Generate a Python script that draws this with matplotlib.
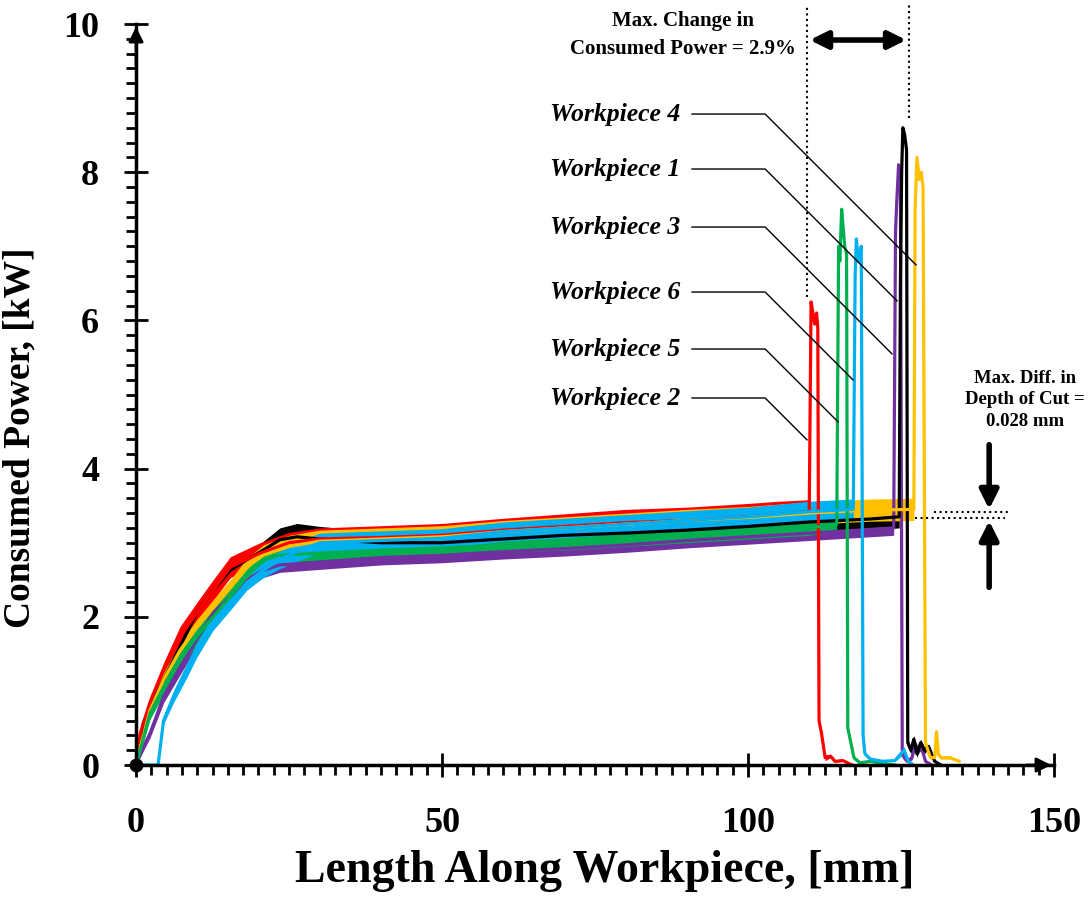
import matplotlib
matplotlib.use("Agg")
import matplotlib.pyplot as plt
import numpy as np
from matplotlib.ticker import MultipleLocator

plt.rcParams['font.family'] = ['Liberation Serif', 'DejaVu Serif']
plt.rcParams['font.weight'] = 'bold'

# values: length [mm], power [kW], noise half-width [kW]
wp1_x = [0, 1.2, 2.8, 4.5, 7.2, 9.9, 12.6, 15.4, 18.1, 20.8, 23.5, 26.3, 30, 40, 50, 60, 70, 80, 90, 100,
         110, 120, 124.7, 124.9, 125.1, 125.3, 125.6, 125.9, 126.1, 126.6, 127.1, 127.6, 128.2, 128.8, 129.5, 130.5, 131.5]
wp1_y = [0, 0.57, 0.88, 1.15, 1.6, 2.05, 2.36, 2.63, 2.77, 2.9, 3.04, 3.08, 3.05, 3.0, 3.0, 3.05, 3.1, 3.13, 3.17, 3.22,
         3.28, 3.32, 3.35, 6.5, 8.0, 8.6, 8.5, 8.3, 0.3, 0.2, 0.35, 0.15, 0.3, 0.2, 0.25, 0.05, 0.0]
wp1_s = [0, 0.05, 0.06, 0.08, 0.1, 0.1, 0.1, 0.1, 0.12, 0.12, 0.16, 0.18, 0.17, 0.15, 0.15, 0.15, 0.15, 0.15, 0.15, 0.15,
         0.15, 0.15, 0.15, 0, 0, 0, 0, 0, 0.05, 0.05, 0.05, 0.05, 0.05, 0.05, 0.03, 0.01, 0]

wp2_x = [0, 0.7, 2.3, 4.5, 7.2, 9.9, 12.6, 15.4, 20, 25, 30, 40, 50, 60, 70, 80, 90, 100, 105, 110.0,
         110.3, 110.6, 110.9, 111.2, 111.4, 111.6, 112.0, 112.6, 113.5, 114.2, 115.5, 117]
wp2_y = [0, 0.43, 0.85, 1.28, 1.73, 2.05, 2.36, 2.67, 2.85, 3.0, 3.05, 3.07, 3.1, 3.17, 3.22, 3.27, 3.3, 3.35, 3.38, 3.42,
         6.25, 6.1, 5.95, 6.1, 5.9, 0.6, 0.43, 0.1, 0.12, 0.05, 0.06, 0.0]
wp2_s = [0, 0.05, 0.08, 0.1, 0.14, 0.14, 0.14, 0.14, 0.14, 0.14, 0.15, 0.16, 0.16, 0.16, 0.17, 0.18, 0.18, 0.18, 0.18, 0.16,
         0, 0, 0, 0, 0, 0, 0.03, 0.04, 0.02, 0.01, 0.01, 0]

wp3_x = [0, 1.2, 2.3, 4.5, 7.2, 9.9, 12.6, 15.4, 18.1, 20.8, 23.5, 30, 40, 50, 60, 70, 80, 90, 100, 110,
         120, 123.8, 124.1, 124.3, 124.6, 124.9, 125.2, 125.5, 126, 126.8, 127.3, 127.8, 128.3, 129, 130]
wp3_y = [0, 0.24, 0.43, 0.92, 1.32, 1.69, 2.05, 2.27, 2.5, 2.63, 2.7, 2.74, 2.8, 2.83, 2.88, 2.92, 2.97, 3.03, 3.08, 3.13,
         3.18, 3.2, 7.2, 7.6, 8.1, 7.8, 0.2, 0.1, 0.05, 0.1, 0.28, 0.2, 0.25, 0.05, 0.0]
wp3_s = [0, 0.05, 0.06, 0.08, 0.1, 0.1, 0.1, 0.1, 0.1, 0.1, 0.1, 0.1, 0.1, 0.1, 0.1, 0.1, 0.1, 0.1, 0.1, 0.1,
         0.1, 0.1, 0, 0, 0, 0, 0, 0.02, 0.02, 0.03, 0.05, 0.05, 0.05, 0.01, 0]

wp4_x = [0, 0.7, 2.3, 4.5, 7.2, 9.9, 12.6, 15.4, 18.1, 20.8, 25, 30, 40, 50, 60, 70, 80, 90, 100, 110,
         120, 127.1, 127.3, 127.6, 128.0, 128.3, 128.6, 129.0, 129.8, 130.5, 130.8, 131.1, 131.5, 133, 134.5]
wp4_y = [0, 0.24, 0.74, 1.15, 1.55, 1.86, 2.13, 2.4, 2.67, 2.83, 2.95, 3.02, 3.05, 3.08, 3.15, 3.2, 3.25, 3.3, 3.34, 3.4,
         3.44, 3.45, 7.5, 8.2, 7.9, 8.0, 7.8, 0.3, 0.1, 0.1, 0.45, 0.15, 0.1, 0.1, 0.05]
wp4_s = [0, 0.05, 0.08, 0.1, 0.1, 0.1, 0.1, 0.1, 0.12, 0.14, 0.15, 0.15, 0.15, 0.15, 0.15, 0.15, 0.15, 0.15, 0.15, 0.15,
         0.15, 0.15, 0, 0, 0, 0, 0, 0.03, 0.02, 0.02, 0, 0.02, 0.02, 0.02, 0.01]

wp5_x = [0, 1.0, 2.3, 4.5, 7.2, 9.9, 12.6, 15.4, 18.1, 20.8, 23.5, 30, 40, 50, 60, 70, 80, 90, 100, 110,
         114.5, 114.8, 115.0, 115.3, 115.5, 115.8, 116.1, 116.3, 116.7, 117.3, 118.3, 120, 122, 124]
wp5_y = [0, 0.3, 0.7, 1.05, 1.42, 1.73, 2.0, 2.27, 2.54, 2.77, 2.83, 2.86, 2.9, 2.93, 2.97, 3.0, 3.05, 3.1, 3.15, 3.2,
         3.25, 7.0, 6.8, 7.5, 7.3, 7.0, 6.9, 0.5, 0.34, 0.1, 0.03, 0.05, 0.02, 0.0]
wp5_s = [0, 0.05, 0.08, 0.1, 0.1, 0.1, 0.1, 0.1, 0.1, 0.1, 0.1, 0.1, 0.1, 0.1, 0.1, 0.1, 0.1, 0.1, 0.1, 0.1,
         0.1, 0, 0, 0, 0, 0, 0, 0, 0.04, 0.03, 0.01, 0.01, 0, 0]

wp6_x = [0, 3.6, 4.5, 6.1, 8.3, 9.9, 12.6, 15.4, 18.1, 20.8, 23.5, 26.3, 30, 40, 50, 60, 70, 80, 90, 100,
         110, 117.2, 117.5, 117.7, 118.0, 118.3, 118.5, 118.8, 119.1, 120, 122, 124, 125.5, 126.2, 127]
wp6_y = [0, 0, 0.6, 0.92, 1.28, 1.55, 1.92, 2.19, 2.46, 2.63, 2.77, 2.88, 3.0, 3.03, 3.06, 3.15, 3.2, 3.25, 3.3, 3.35,
         3.42, 3.45, 6.6, 7.1, 6.8, 6.9, 7.0, 0.4, 0.15, 0.08, 0.05, 0.06, 0.2, 0.05, 0.0]
wp6_s = [0, 0, 0.05, 0.08, 0.1, 0.1, 0.1, 0.1, 0.1, 0.1, 0.12, 0.13, 0.13, 0.13, 0.13, 0.13, 0.13, 0.13, 0.13, 0.13,
         0.14, 0.14, 0, 0, 0, 0, 0, 0, 0.02, 0.02, 0.01, 0.01, 0.05, 0.01, 0]

# drawing order bottom -> top
series = [
    (wp3_x, wp3_y, wp3_s, '#7030A0'),
    (wp1_x, wp1_y, wp1_s, '#000000'),
    (wp2_x, wp2_y, wp2_s, '#FF0000'),
    (wp4_x, wp4_y, wp4_s, '#FFC000'),
    (wp5_x, wp5_y, wp5_s, '#00B050'),
    (wp6_x, wp6_y, wp6_s, '#00B0F0'),
]

# callout labels: text, label y, end point of leader line
labels = ['Workpiece 4', 'Workpiece 1', 'Workpiece 3', 'Workpiece 6', 'Workpiece 5', 'Workpiece 2']
label_y = [8.785, 8.043, 7.26, 6.383, 5.614, 4.953]
leader_end = [(127.45, 6.761), (124.35, 6.262), (123.53, 5.56), (117.16, 5.196), (114.71, 4.629), (109.64, 4.386)]

fig = plt.figure(figsize=(10.9, 9.06), dpi=100)
ax = fig.add_axes([0.1248, 0.1556, 0.8422, 0.8179])

for x, y, s, c in series:
    x = np.array(x); y = np.array(y); s = np.array(s)
    ax.fill_between(x, y - s, y + s, color=c, lw=0)
    ax.plot(x, y, color=c, lw=2.3)

ax.plot(0, 0, 'o', color='k', ms=9, clip_on=False, zorder=5)

ax.set_xlim(0, 150)
ax.set_ylim(0, 10)
for sp in ['top', 'right']:
    ax.spines[sp].set_visible(False)
for sp in ['left', 'bottom']:
    ax.spines[sp].set_linewidth(2.5)

ax.xaxis.set_major_locator(MultipleLocator(50))
ax.xaxis.set_minor_locator(MultipleLocator(2.5))
ax.yaxis.set_major_locator(MultipleLocator(2))
ax.yaxis.set_minor_locator(MultipleLocator(0.2))
ax.tick_params(which='major', direction='inout', length=17, width=2, labelsize=26)
ax.tick_params(which='minor', direction='out', length=7, width=2)
ax.tick_params(axis='x', which='major', pad=22)
ax.tick_params(axis='y', which='major', pad=18)

ax.annotate('', xy=(0, 10), xytext=(0, 9.4), annotation_clip=False,
            arrowprops=dict(arrowstyle='-|>', color='k', lw=2, mutation_scale=22))
ax.annotate('', xy=(150, 0), xytext=(145, 0), annotation_clip=False,
            arrowprops=dict(arrowstyle='-|>', color='k', lw=2, mutation_scale=22))

ax.set_xlabel('Length Along Workpiece, [mm]', fontsize=33, fontweight='bold', labelpad=7)
ax.xaxis.label.set_x(0.51)
ax.set_ylabel('Consumed Power, [kW]', fontsize=27, fontweight='bold')
ax.yaxis.set_label_coords(-0.107, 0.441)

# workpiece callouts
for name, ly, (ex, ey) in zip(labels, label_y, leader_end):
    ax.text(88.9, ly, name, ha='right', va='center', fontsize=18.5, fontstyle='italic', fontweight='bold')
    bend = 102.8
    dy = (ex - bend) * 6.12 / 74.1
    ax.plot([90.85, bend, ex], [ly, ly, ly - dy], color='k', lw=1)

# max change in consumed power
ax.plot([109.64, 109.64], [6.316, 10.256], ls=':', color='k', lw=1.5, clip_on=False)
ax.plot([126.31, 126.31], [8.731, 10.256], ls=':', color='k', lw=1.5, clip_on=False)
ax.annotate('', xy=(126.31, 9.784), xytext=(109.64, 9.784), annotation_clip=False,
            arrowprops=dict(arrowstyle='<|-|>', color='k', lw=4, mutation_scale=26))
ax.text(89.38, 9.85, 'Max. Change in\nConsumed Power = 2.9%', ha='center', va='center',
        fontsize=15, fontweight='bold', linespacing=1.5)

# max difference in depth of cut
ax.plot([130.4, 142.5], [3.414, 3.414], ls=':', color='k', lw=1.5, clip_on=False)
ax.plot([127.3, 142.0], [3.333, 3.333], ls=':', color='k', lw=1.5, clip_on=False)
ax.annotate('', xy=(139.4, 3.414), xytext=(139.4, 4.36), annotation_clip=False,
            arrowprops=dict(arrowstyle='-|>', color='k', lw=4, mutation_scale=28))
ax.annotate('', xy=(139.4, 3.333), xytext=(139.4, 2.36), annotation_clip=False,
            arrowprops=dict(arrowstyle='-|>', color='k', lw=4, mutation_scale=28))
ax.text(145.3, 4.93, 'Max. Diff. in\nDepth of Cut =\n0.028 mm', ha='center', va='center',
        fontsize=13.5, fontweight='bold', linespacing=1.35)

fig.savefig('out.png', dpi=100)
